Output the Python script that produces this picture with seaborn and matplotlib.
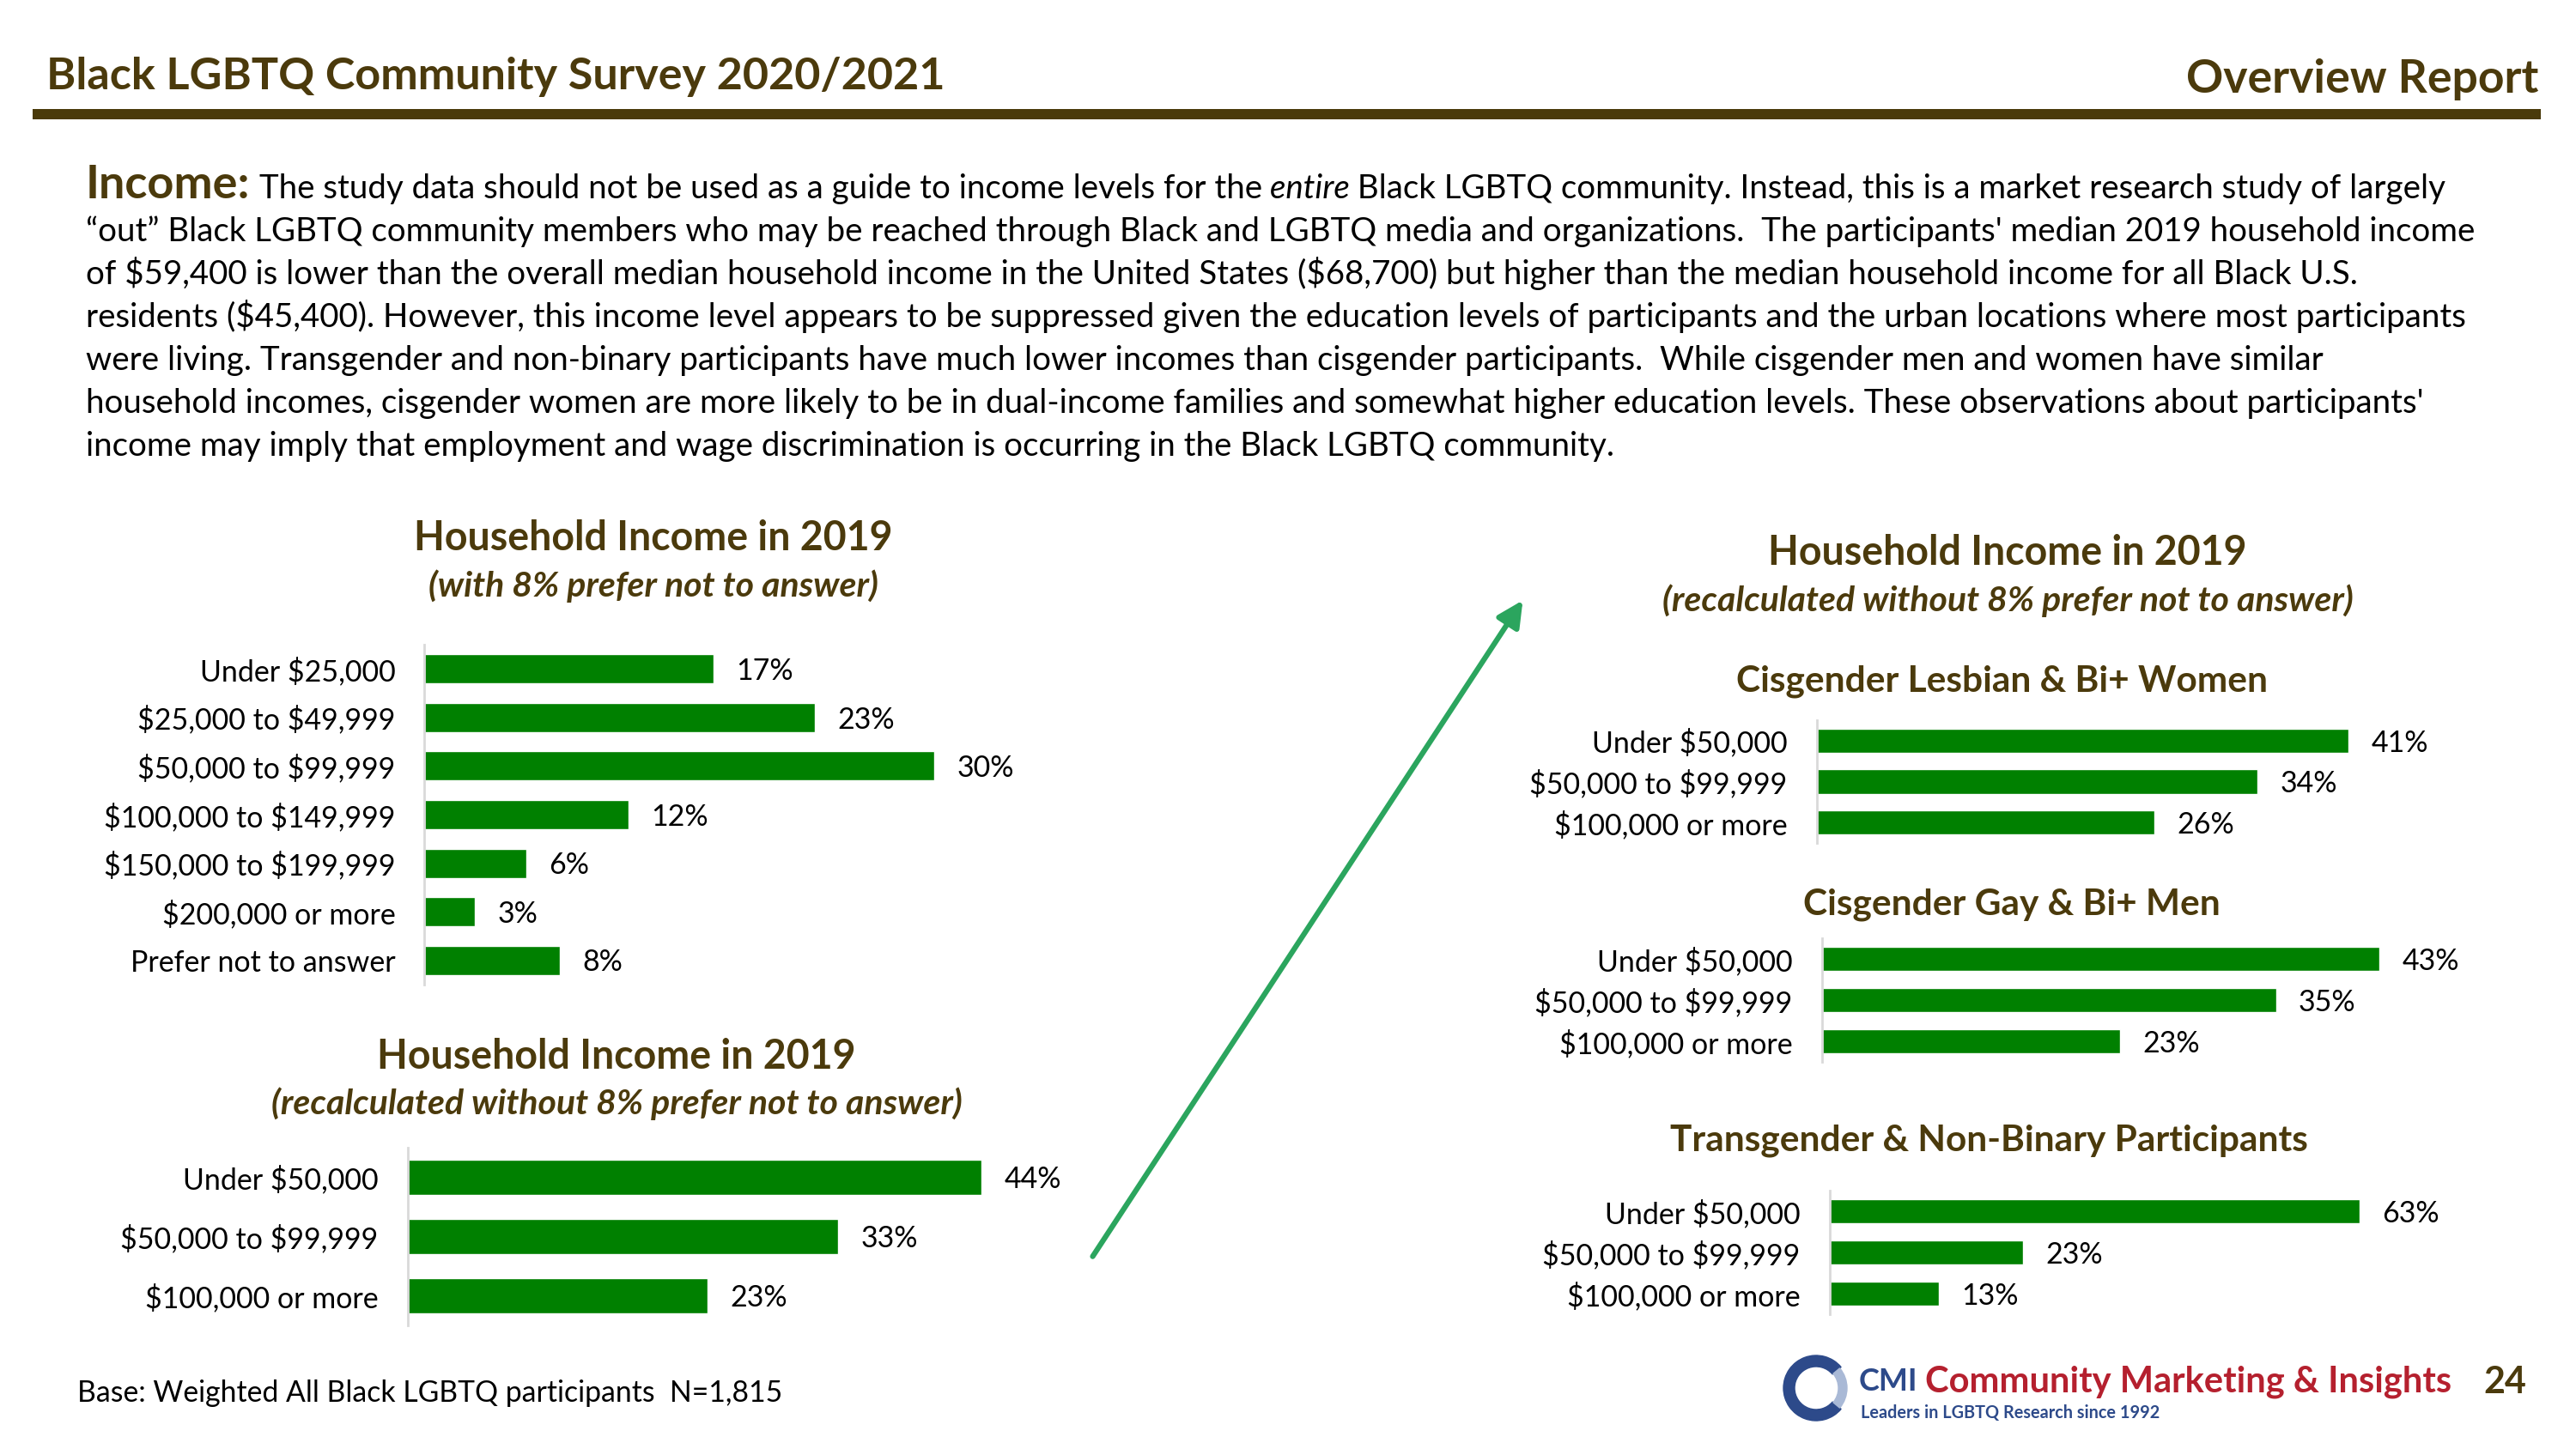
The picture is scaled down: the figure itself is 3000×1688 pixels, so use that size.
import matplotlib.pyplot as plt
import seaborn as sns
from matplotlib import font_manager
from matplotlib.patches import Wedge

# ---- data ----
all_labels = ['Under $25,000', '$25,000 to $49,999', '$50,000 to $99,999',
              '$100,000 to $149,999', '$150,000 to $199,999', '$200,000 or more',
              'Prefer not to answer']
all_values = [17, 23, 30, 12, 6, 3, 8]

short_labels = ['Under $50,000', '$50,000 to $99,999', '$100,000 or more']
recalc_values = [44, 33, 23]
women_values = [41, 34, 26]
men_values = [43, 35, 23]
trans_values = [63, 23, 13]

# ---- style ----
sns.set_style('white')
plt.rcParams['font.family'] = ['Lato', 'DejaVu Sans']

font_names = {f.name for f in font_manager.fontManager.ttflist}
HAS_NARROW = 'Liberation Sans Narrow' in font_names
NARROW = 'Liberation Sans Narrow' if HAS_NARROW else 'Lato'

W, H = 3000, 1688
OLIVE = '#4B3A0C'
GREEN = '#008000'
LBL = 24.5

fig = plt.figure(figsize=(W / 100, H / 100), dpi=100)

# overlay axes in pixel coordinates for the slide text
ov = fig.add_axes([0, 0, 1, 1])
ov.set_xlim(0, W)
ov.set_ylim(H, 0)
ov.axis('off')
renderer = fig.canvas.get_renderer()


def to_fig(x0, y0, x1, y1):
    return [x0 / W, 1 - y1 / H, (x1 - x0) / W, (y1 - y0) / H]


def income_bars(box, labels, values, xmax, pad=25):
    ax = fig.add_axes(to_fig(*box))
    sns.barplot(x=values, y=labels, orient='h', color=GREEN, saturation=1,
                width=0.6, ax=ax)
    ax.set_xlim(0, xmax)
    ax.set_ylim(len(values) - 0.5, -0.5)
    ax.set_xticks([])
    ax.set_yticks(range(len(labels)), [s.replace('$', r'\$') for s in labels])
    ax.tick_params(axis='y', length=0, pad=pad, labelsize=LBL, labelcolor='#000000')
    ax.set_xlabel('')
    ax.set_ylabel('')
    for side in ['top', 'right', 'bottom']:
        ax.spines[side].set_visible(False)
    ax.spines['left'].set_color('#D9D9D9')
    ax.spines['left'].set_linewidth(2)
    anns = ax.bar_label(ax.containers[0], labels=[f'{v}%' for v in values],
                        padding=19, fontsize=LBL, color='#000000')
    for a in anns:
        a.xyann = (a.xyann[0], a.xyann[1] - 2)
    ax.patch.set_alpha(0)
    return ax


# ---- header ----
ov.text(54, 104, 'Black LGBTQ Community Survey 2020/2021', fontsize=37.5,
        fontweight='bold', color=OLIVE, va='baseline')
ov.text(2956, 108, 'Overview Report', fontsize=38.5, fontweight='bold',
        color=OLIVE, va='baseline', ha='right')
ov.fill_between([38, 2959], 127, 139, color='#4A3A0A', lw=0)

# ---- paragraph ----
def text_run(pieces, x, y):
    for s, kw in pieces:
        opts = dict(color='#000000')
        opts.update(kw)
        t = ov.text(x, y, s, va='baseline', parse_math=False, **opts)
        x += t.get_window_extent(renderer).width
    return x


PSIZE = 27.7
text_run([('Income:', dict(fontsize=39, fontweight='bold', color=OLIVE)),
          (' The study data should not be used as a guide to income levels for the',
           dict(fontsize=PSIZE)),
          (' entire', dict(fontsize=PSIZE, style='italic')),
          (' Black LGBTQ community. Instead, this is a market research study of largely',
           dict(fontsize=PSIZE))], 100, 231)

para_lines = [
    '\u201cout\u201d Black LGBTQ community members who may be reached through Black and LGBTQ media and organizations.  The participants\' median 2019 household income',
    'of $59,400 is lower than the overall median household income in the United States ($68,700) but higher than the median household income for all Black U.S.',
    'residents ($45,400). However, this income level appears to be suppressed given the education levels of participants and the urban locations where most participants',
    'were living. Transgender and non-binary participants have much lower incomes than cisgender participants.  While cisgender men and women have similar',
    'household incomes, cisgender women are more likely to be in dual-income families and somewhat higher education levels. These observations about participants\'',
    'income may imply that employment and wage discrimination is occurring in the Black LGBTQ community.',
]
for i, line in enumerate(para_lines):
    ov.text(100, 281 + 50 * i, line, fontsize=PSIZE, va='baseline',
            parse_math=False, color='#000000')


# ---- chart titles ----
def title(x, y, s, size=33.5, style='normal'):
    ov.text(x, y, s, fontsize=size, fontweight='bold', style=style, color=OLIVE,
            ha='center', va='center', parse_math=False)


SUB = 29.5
SEC = 30.5
title(761, 627, 'Household Income in 2019')
title(761, 683, '(with 8% prefer not to answer)', size=SUB, style='italic')
title(718, 1231, 'Household Income in 2019')
title(718, 1286, '(recalculated without 8% prefer not to answer)', size=SUB, style='italic')
title(2338, 644, 'Household Income in 2019')
title(2338, 700, '(recalculated without 8% prefer not to answer)', size=SUB, style='italic')
title(2332, 794, 'Cisgender Lesbian & Bi+ Women', size=SEC)
title(2343, 1054, 'Cisgender Gay & Bi+ Men', size=SEC)
title(2316, 1329, 'Transgender & Non-Binary Participants', size=SEC)

# ---- bar charts ----
income_bars((494, 751, 1286, 1147), all_labels, all_values, 40, pad=24)
income_bars((475, 1337, 1234, 1544), short_labels, recalc_values, 50)
income_bars((2116, 839, 2871, 982), short_labels, women_values, 50)
income_bars((2122, 1093, 2877, 1237), short_labels, men_values, 50)
income_bars((2131, 1387, 2865, 1531), short_labels, trans_values, 75)

# ---- arrow ----
ov.annotate('', xy=(1775, 697), xytext=(1271, 1466),
            arrowprops=dict(arrowstyle='-|>', color='#2BA55E', lw=4.5,
                            mutation_scale=45))

# ---- footer ----
ov.text(90, 1623, 'Base: Weighted All Black LGBTQ participants  N=1,815', fontsize=24.3,
        va='center', color='#000000')

ov.add_patch(Wedge((2115, 1617), 38, 40, 320, width=13, color='#2D4A8A'))
ov.add_patch(Wedge((2115, 1617), 36, -40, 40, width=10, color='#A9B9D6'))
cmi = ov.text(2165, 1610, 'CMI', fontsize=30 if HAS_NARROW else 26,
              fontweight='bold', color='#2D4A8A', va='center', family=NARROW)
cmi_end = cmi.get_window_extent(renderer).x1
ov.text(cmi_end + 8, 1610, 'Community Marketing & Insights',
        fontsize=33 if HAS_NARROW else 30, fontweight='bold', color='#B5202E',
        va='center', family=NARROW)
ov.text(2167, 1646, 'Leaders in LGBTQ Research since 1992', fontsize=14.3,
        fontweight='bold', color='#2D4A8A', va='center')
ov.text(2892, 1610, '24', fontsize=31, fontweight='bold', color=OLIVE, va='center')

fig.savefig('out.png', dpi=100)
